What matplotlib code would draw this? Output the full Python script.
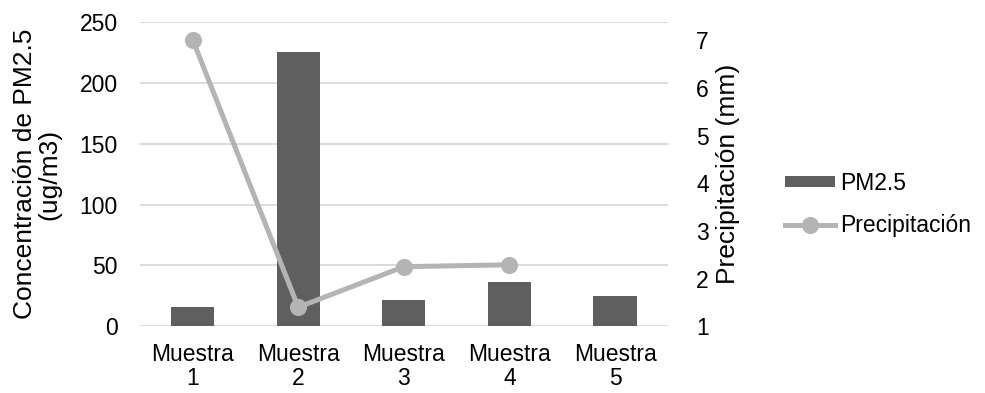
import numpy as np
import matplotlib.pyplot as plt

plt.rcParams['font.family'] = ['Liberation Sans', 'DejaVu Sans']

# Data
muestras = ['Muestra\n1', 'Muestra\n2', 'Muestra\n3', 'Muestra\n4', 'Muestra\n5']
pm25 = [15.8, 225, 21.3, 36.1, 24.6]
precip = [7.01, 1.40, 2.25, 2.29, np.nan]

x = np.arange(len(muestras))

fig = plt.figure(figsize=(9.85, 3.93), dpi=100)
ax = fig.add_axes([0.142, 0.1697, 0.536, 0.7743])
ax2 = ax.twinx()

bars = ax.bar(x, pm25, width=0.41, color='#5f5f5f', label='PM2.5', zorder=2)
line, = ax2.plot(x, precip, color='#b4b4b4', lw=3.6, marker='o', markersize=11.3,
                 label='Precipitación', zorder=3)

ax.set_xlim(-0.5, 4.5)
ax.set_ylim(0, 250)
ax.set_yticks(range(0, 251, 50))
ax2.set_ylim(1, 7.38)
ax2.set_yticks(range(1, 8))

ax.set_xticks(x)
ax.set_xticklabels(muestras, linespacing=1.05)
ax.yaxis.grid(True, color='#d9d9d9', lw=1.3)
ax.set_axisbelow(True)

for a in (ax, ax2):
    for s in a.spines.values():
        s.set_visible(False)
    a.tick_params(length=0, labelsize=16.5, colors='#000000')
ax.tick_params(axis='y', pad=16)
ax.tick_params(axis='x', pad=12)
ax2.tick_params(axis='y', pad=20.5)

ax.set_ylabel('Concentración de PM2.5\n(ug/m3)', fontsize=19, labelpad=13,
              linespacing=1.0)
ax2.set_ylabel('Precipitación (mm)', fontsize=19, labelpad=5)

fig.legend(handles=[bars, line], loc='center left', bbox_to_anchor=(0.797, 0.48),
           frameon=False, fontsize=16.5, handlelength=2.2, handleheight=0.35,
           labelspacing=0.85, handletextpad=0.2, borderaxespad=0, borderpad=0)

fig.savefig('out.png', dpi=100)
